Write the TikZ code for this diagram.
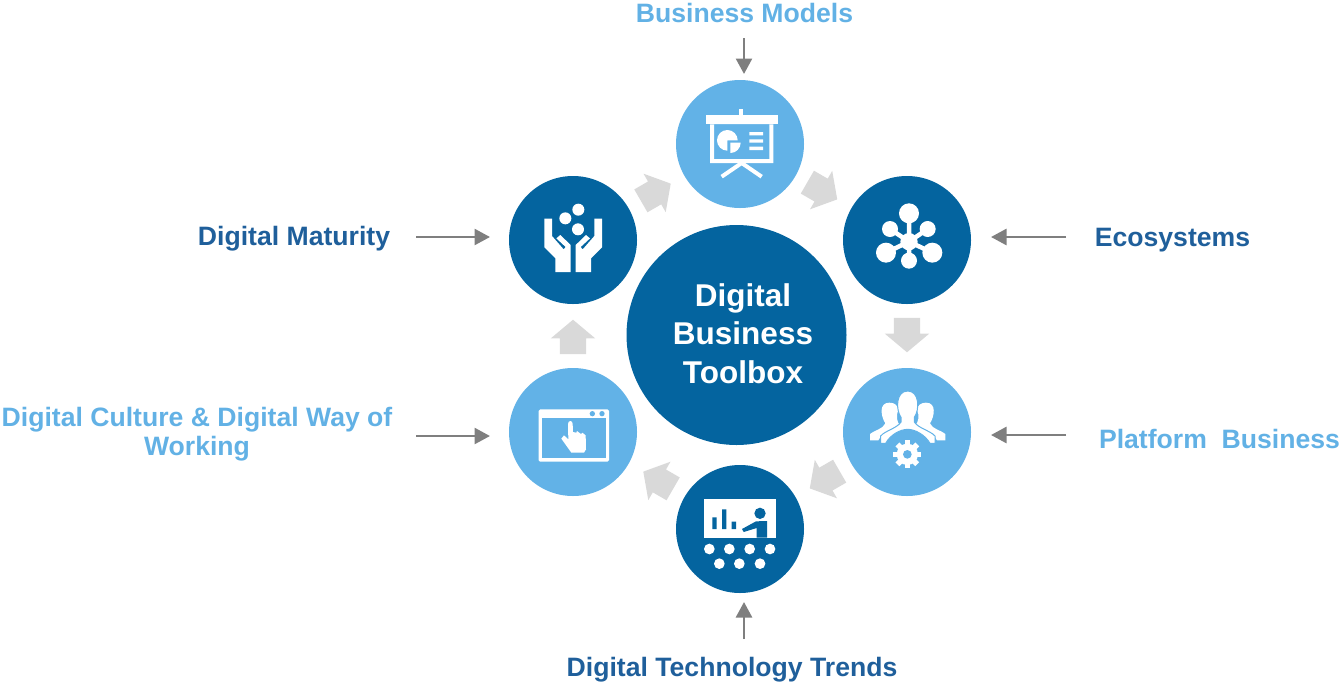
\documentclass[tikz,border=0pt]{standalone}
\usepackage{fontspec}
\setmainfont{Liberation Sans}
\usetikzlibrary{arrows.meta,shapes.arrows}
\definecolor{navy}{HTML}{04649F}
\definecolor{sky}{HTML}{62B2E7}
\definecolor{navytext}{HTML}{1F5F9B}
\definecolor{skytext}{HTML}{62B1E5}
\definecolor{blockgray}{HTML}{D9D9D9}
\definecolor{feedgray}{HTML}{7F7F7F}
\tikzset{
  disc/.style={circle,minimum size=128pt,inner sep=0pt,fill=#1},
  hub/.style={circle,minimum size=220pt,inner sep=0pt,fill=navy},
  hubtext/.style={text=white,align=center,inner sep=0pt,font=\fontsize{31.5}{38.5}\selectfont\bfseries},
  lbl/.style={font=\fontsize{26.6}{29}\selectfont\bfseries,text=#1,inner sep=0pt,align=center},
  feed/.style={draw=feedgray,line width=2.6pt,-{Triangle[length=15.5pt,width=16pt]}},
  block/.style={single arrow,fill=blockgray,draw=none,inner xsep=0pt,inner ysep=13pt,minimum height=34.5pt,minimum width=43pt,
    single arrow head extend=9pt,single arrow tip angle=100,anchor=center},
  icon/.style={shift={#1},x=0.33333pt,y=-0.33333pt},
}
\begin{document}
\begin{tikzpicture}[x=1pt,y=-1pt]
\useasboundingbox (0,0) rectangle (1341,681);
% discs
\node[hub] (center) at (736.5,335) {};
\node[hubtext] (title) at (743,333.5) {Digital\\Business\\Toolbox};
\node[disc=sky] (models) at (740,144) {};
\node[disc=navy] (eco) at (907,240) {};
\node[disc=sky] (platform) at (907,432) {};
\node[disc=navy] (trends) at (740,529) {};
\node[disc=sky] (culture) at (573,432) {};
\node[disc=navy] (maturity) at (573,240) {};
% block arrows
\node[block,rotate=30] (b1) at (651,195) {};
\node[block,rotate=-30] (b2) at (817.5,188) {};
\node[block,rotate=-90] (b3) at (907,329.5) {};
\node[block,rotate=-150] (b4) at (829.5,477) {};
\node[block,rotate=150] (b5) at (663,483) {};
\node[block,rotate=90] (b6) at (573,342.5) {};
% labels
\node[lbl=skytext,anchor=base] (lmodels) at (744.5,22) {Business Models};
\node[lbl=navytext,anchor=base] (lmaturity) at (294,245) {Digital Maturity};
\node[lbl=navytext,anchor=base] (leco) at (1172.5,246) {Ecosystems};
\node[lbl=skytext,anchor=base] (lplatform) at (1219.5,448) {Platform\ \ Business};
\node[lbl=skytext] (lculture) at (197,434.5) {Digital Culture \& Digital Way of\\Working};
\node[lbl=navytext,anchor=base] (ltrends) at (732,676) {Digital Technology Trends};
% feeders
\coordinate (f1) at (744,38);
\coordinate (f1e) at (744,74);
\coordinate (f2) at (1066,237);
\coordinate (f2e) at (991,237);
\coordinate (f3) at (1066,435);
\coordinate (f3e) at (991,435);
\coordinate (f4) at (744,639);
\coordinate (f4e) at (744,602);
\coordinate (f5) at (416,436);
\coordinate (f5e) at (490,436);
\coordinate (f6) at (416,237);
\coordinate (f6e) at (490,237);
\draw[feed] (f1) -- (f1e);
\draw[feed] (f2) -- (f2e);
\draw[feed] (f3) -- (f3e);
\draw[feed] (f4) -- (f4e);
\draw[feed] (f5) -- (f5e);
\draw[feed] (f6) -- (f6e);
% icon: presentation screen
\begin{scope}[icon={(670,70)}]
  \fill[white] (108,135) rectangle (323,163);
  \fill[white] (207,117) rectangle (219,135);
  \fill[white,even odd rule] (120,163) rectangle (310,279) (132,163) rectangle (298,267);
  \draw[white,line width=4pt] (155,320) -- (215,279) -- (275,320);
  \fill[white] (172,211) -- (172,242) arc[start angle=90,end angle=360,radius=31] -- cycle;
  \fill[white] (181,218) -- (212,218) arc[start angle=0,end angle=90,radius=31] -- cycle;
  \fill[white] (238,186) rectangle (279,196) (238,208) rectangle (279,218) (238,230) rectangle (279,240);
\end{scope}
% icon: network
\begin{scope}[icon={(835,170)}]
  \fill[white] (222,215) circle[radius=26];
  \draw[white,line width=4.5pt] (222,130) -- (222,272) (165,177) -- (222,215) -- (278,177) (153,248) -- (222,215) -- (292,248);
  \foreach \px/\py/\pr in {222/130/30,165/177/24,278/177/24,153/248/30,292/248/30,222/272/24}
    \fill[white] (\px,\py) circle[radius=\pr];
\end{scope}
% icon: people and gear
\begin{scope}[icon={(835,360)}]
  \foreach \sx/\ox in {1/0,-1/436}{
    \begin{scope}[shift={(\ox,0)},x=\sx*0.33333pt]
    \fill[white] (105,241) -- (105,222) .. controls (115,212) and (145,207) .. (151,190) .. controls (138,170) and (130,128) .. (163,128) .. controls (178,128) and (188,135) .. (190,150) .. controls (182,165) and (185,190) .. (197,197) -- (180,204) .. controls (160,212) and (135,225) .. (130,241) -- cycle;
    \end{scope}
  }
  \fill[white,draw=sky,line width=1pt] (137,250) -- (137,228) .. controls (150,212) and (186,205) .. (198,186) -- (198,172) .. controls (182,150) and (182,93) .. (218,93) .. controls (254,93) and (254,150) .. (238,172) -- (238,186) .. controls (250,205) and (286,212) .. (300,228) -- (300,250) -- (285,250) .. controls (270,224) and (240,208) .. (218,208) .. controls (196,208) and (166,224) .. (152,250) -- cycle;
  \foreach \a in {0,45,...,315}
    \draw[white,line width=5.5pt] (217,283) -- ++(\a:42);
  \fill[white] (217,283) circle[radius=32];
  \fill[sky] (217,283) circle[radius=13];
\end{scope}
% icon: lecture
\begin{scope}[icon={(670,460)}]
  \fill[white] (102,118) rectangle (317,233);
  \fill[navy] (127,172) rectangle (140,207) (156,148) rectangle (169,207) (185,185) rectangle (198,207);
  \fill[navy] (270,160) circle[radius=17];
  \fill[navy] (216,207) -- (258,184) -- (291,183) -- (291,233) -- (260,233) -- (260,204) -- (221,216) -- cycle;
  \foreach \px in {118,178,239,300} \fill[white] (\px,267) circle[radius=16];
  \foreach \px in {148,208,270} \fill[white] (\px,311) circle[radius=16];
\end{scope}
% icon: browser and hand
\begin{scope}[icon={(503,360)}]
  \fill[white,rounded corners=1.5pt] (107,148) rectangle (318,305);
  \fill[sky] (117,175) rectangle (308,293);
  \fill[sky] (268,161) circle[radius=8] (297,161) circle[radius=8];
  \fill[white] (195,192) .. controls (195,180) and (209,180) .. (209,192) -- (210,216) -- (220,218) -- (222,213) -- (234,222) -- (238,218) -- (248,226) -- (249,268) -- (243,278) -- (205,278) -- (175,236) -- (183,226) -- (196,238) -- cycle;
\end{scope}
% icon: hands
\begin{scope}[icon={(503,170)}]
  \fill[white] (226,119) circle[radius=18] (187,145) circle[radius=18] (225,178) circle[radius=18];
  \foreach \sx/\ox in {1/0,-1/421}{
    \begin{scope}[shift={(\ox,0)},x=\sx*0.33333pt]
    \fill[white] (124,146) -- (147,146) -- (147,198) -- (182,238) -- (188,231) -- (160,205) -- (172,195) -- (203,225) -- (203,306) -- (157,306) -- (157,265) -- (124,232) -- cycle;
    \end{scope}
  }
\end{scope}
\end{tikzpicture}
\end{document}
